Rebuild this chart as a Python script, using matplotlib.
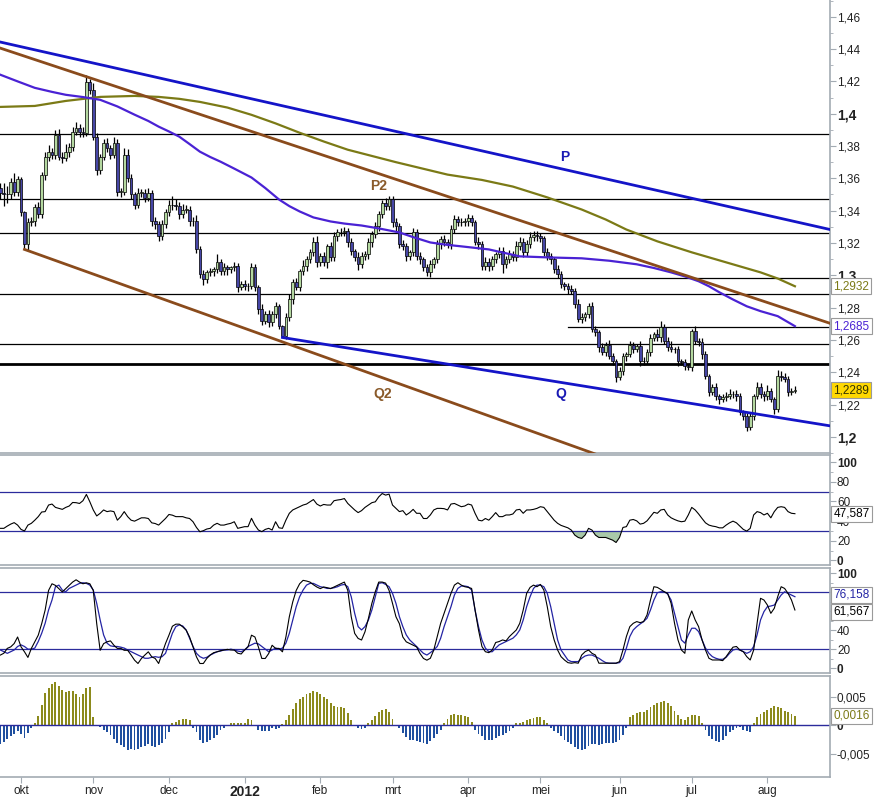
import numpy as np
import pandas as pd
import matplotlib
matplotlib.use("Agg")
import matplotlib.pyplot as plt

plt.rcParams['font.family'] = ['Liberation Sans', 'DejaVu Sans']

# ---------------------------------------------------------------- data
start_day = "2011-09-23"   # first trading day on the chart (daily bars, weekdays)
first_open = 1.3540

closes = [
    1.3512, 1.3500, 1.3500, 1.3580, 1.3518, 1.3593, 1.3389, 1.3191, 1.3327, 1.3333,
    1.3420, 1.3377, 1.3623, 1.3735, 1.3765, 1.3747, 1.3870, 1.3735, 1.3728, 1.3765,
    1.3796, 1.3889, 1.3914, 1.3889, 1.3883, 1.4198, 1.4148, 1.3858, 1.3654, 1.3735,
    1.3821, 1.3790, 1.3747, 1.3821, 1.3518, 1.3518, 1.3747, 1.3605, 1.3500, 1.3438,
    1.3512, 1.3512, 1.3481, 1.3512, 1.3333, 1.3315, 1.3241, 1.3315, 1.3389, 1.3438,
    1.3432, 1.3426, 1.3377, 1.3407, 1.3407, 1.3333, 1.3333, 1.3160, 1.3006, 1.2975,
    1.3018, 1.3024, 1.3037, 1.3080, 1.3024, 1.3049, 1.3037, 1.3049, 1.3055, 1.2926,
    1.2944, 1.2932, 1.2932, 1.3049, 1.2926, 1.2790, 1.2716, 1.2759, 1.2710, 1.2759,
    1.2808, 1.2685, 1.2623, 1.2740, 1.2851, 1.2956, 1.2926, 1.3024, 1.3055, 1.3098,
    1.3142, 1.3209, 1.3080, 1.3117, 1.3080, 1.3179, 1.3111, 1.3241, 1.3265, 1.3265,
    1.3271, 1.3203, 1.3148, 1.3111, 1.3067, 1.3117, 1.3129, 1.3203, 1.3253, 1.3302,
    1.3377, 1.3450, 1.3426, 1.3469, 1.3327, 1.3302, 1.3191, 1.3179, 1.3117, 1.3142,
    1.3265, 1.3117, 1.3098, 1.3049, 1.3018, 1.3067, 1.3098, 1.3191, 1.3222, 1.3209,
    1.3191, 1.3284, 1.3346, 1.3327, 1.3327, 1.3333, 1.3352, 1.3327, 1.3209, 1.3191,
    1.3055, 1.3080, 1.3055, 1.3098, 1.3129, 1.3148, 1.3067, 1.3098, 1.3129, 1.3111,
    1.3179, 1.3209, 1.3142, 1.3191, 1.3234, 1.3247, 1.3241, 1.3228, 1.3142, 1.3117,
    1.3098, 1.3037, 1.3006, 1.2944, 1.2932, 1.2913, 1.2901, 1.2821, 1.2728, 1.2740,
    1.2759, 1.2808, 1.2666, 1.2648, 1.2555, 1.2524, 1.2568, 1.2500, 1.2469, 1.2370,
    1.2407, 1.2500, 1.2512, 1.2568, 1.2543, 1.2562, 1.2469, 1.2469, 1.2524, 1.2611,
    1.2636, 1.2617, 1.2679, 1.2592, 1.2555, 1.2543, 1.2543, 1.2469, 1.2463, 1.2438,
    1.2432, 1.2654, 1.2592, 1.2586, 1.2512, 1.2376, 1.2278, 1.2308, 1.2253, 1.2234,
    1.2247, 1.2253, 1.2265, 1.2265, 1.2253, 1.2154, 1.2130, 1.2062, 1.2130, 1.2253,
    1.2308, 1.2265, 1.2253, 1.2284, 1.2234, 1.2173, 1.2376, 1.2370, 1.2358, 1.2278,
    1.2284, 1.2289,
]

# wick lengths above / below the body, in pips
upper_wick = [
    30, 60, 50, 25, 50, 20, 15, 10, 25, 30, 20, 35, 15, 30, 40, 25, 30, 35, 25, 45,
    20, 30, 35, 25, 30, 43, 15, 40, 20, 15, 25, 30, 15, 35, 20, 20, 40, 35, 20, 15,
    30, 25, 20, 30, 15, 25, 20, 30, 20, 25, 50, 40, 25, 35, 30, 20, 25, 40, 20, 25,
    15, 20, 15, 50, 20, 30, 15, 10, 30, 20, 20, 25, 20, 25, 20, 15, 30, 20, 25, 20,
    25, 15, 10, 25, 30, 20, 25, 15, 40, 20, 20, 30, 35, 20, 25, 15, 30, 25, 20, 25,
    30, 20, 25, 15, 30, 25, 20, 25, 20, 25, 20, 15, 30, 20, 20, 25, 20, 25, 20, 15,
    25, 20, 25, 15, 20, 25, 15, 30, 20, 25, 15, 30, 25, 20, 25, 20, 30, 20, 15, 25,
    20, 30, 25, 20, 15, 25, 25, 20, 30, 20, 35, 25, 20, 30, 35, 30, 25, 20, 15, 25,
    20, 15, 25, 20, 15, 20, 25, 20, 30, 25, 15, 20, 25, 20, 15, 25, 20, 30, 20, 15,
    25, 20, 15, 25, 20, 15, 30, 25, 20, 25, 15, 30, 35, 20, 25, 40, 15, 20, 15, 20,
    15, 15, 30, 20, 25, 20, 15, 20, 25, 15, 20, 25, 30, 20, 25, 20, 15, 20, 25, 15,
    30, 25, 20, 35, 20, 15, 40, 30, 25, 20, 20, 25,
]
lower_wick = [
    40, 70, 50, 30, 30, 25, 20, 30, 40, 20, 30, 25, 20, 35, 25, 30, 25, 20, 35, 20,
    30, 25, 20, 35, 30, 20, 25, 20, 35, 25, 20, 30, 25, 20, 25, 35, 20, 25, 30, 25,
    20, 25, 30, 20, 25, 30, 31, 20, 25, 20, 25, 20, 30, 25, 20, 25, 30, 20, 25, 35,
    25, 20, 30, 25, 20, 25, 35, 20, 25, 30, 20, 25, 30, 20, 25, 30, 25, 20, 30, 25,
    25, 20, 6, 20, 25, 30, 20, 25, 20, 30, 20, 25, 30, 25, 20, 35, 20, 25, 30, 25,
    20, 30, 25, 20, 35, 25, 20, 30, 25, 20, 25, 20, 25, 20, 30, 25, 20, 25, 30, 25,
    20, 25, 30, 20, 25, 30, 20, 25, 30, 25, 20, 30, 25, 20, 25, 20, 30, 25, 20, 30,
    25, 20, 30, 25, 20, 25, 50, 25, 20, 25, 20, 25, 30, 20, 25, 20, 30, 25, 20, 25,
    30, 20, 25, 20, 25, 30, 20, 25, 20, 25, 20, 25, 20, 25, 30, 20, 25, 20, 25, 30,
    20, 25, 30, 20, 25, 20, 30, 25, 20, 25, 20, 25, 30, 20, 25, 20, 25, 30, 20, 25,
    20, 25, 20, 25, 30, 20, 25, 20, 25, 30, 20, 25, 20, 25, 30, 20, 25, 25, 20, 25,
    20, 25, 30, 25, 20, 30, 20, 25, 20, 25, 20, 15,
]

# moving averages (bar index, price)
ma_fast_idx = [0, 5, 10, 15, 19, 24, 29, 34, 39, 43, 46, 49, 52, 55, 58, 61, 64, 68,
               73, 77, 81, 84, 87, 91, 96, 100, 105, 110, 116, 120, 125, 130, 134,
               142, 151, 160, 169, 177, 185, 190, 195, 199, 203, 206, 209, 213, 217,
               221, 226, 231]
ma_fast = [1.4241, 1.4200, 1.4160, 1.4135, 1.4117, 1.4103, 1.4086, 1.4045, 1.3994,
           1.3955, 1.3920, 1.3890, 1.3858, 1.3812, 1.3765, 1.3732, 1.3703, 1.3660,
           1.3605, 1.3540, 1.3469, 1.3428, 1.3395, 1.3358, 1.3333, 1.3320, 1.3308,
           1.3290, 1.3265, 1.3236, 1.3203, 1.3188, 1.3179, 1.3160, 1.3117, 1.3110,
           1.3105, 1.3090, 1.3068, 1.3045, 1.3018, 1.2993, 1.2963, 1.2932, 1.2895,
           1.2850, 1.2808, 1.2778, 1.2747, 1.2685]
ma_slow_idx = [0, 10, 19, 29, 39, 46, 52, 58, 66, 73, 80, 87, 94, 101, 115, 130, 140,
               149, 159, 169, 176, 182, 191, 201, 211, 221, 226, 231]
ma_slow = [1.4042, 1.4048, 1.4079, 1.4104, 1.4110, 1.4104, 1.4092, 1.4073, 1.4038,
           1.3993, 1.3940, 1.3882, 1.3828, 1.3777, 1.3700, 1.3623, 1.3590, 1.3549,
           1.3482, 1.3407, 1.3345, 1.3283, 1.3210, 1.3142, 1.3080, 1.3018, 1.2980,
           1.2932]

# trend lines (bar index, price)
p_idx, p_val = [-7, 245], [1.4477, 1.3265]
p2_idx, p2_val = [-7, 245], [1.4455, 1.2676]
q_idx, q_val = [82, 245], [1.2615, 1.2055]
q2_idx, q2_val = [7, 180], [1.3160, 1.1840]

# horizontal support / resistance
levels = [1.3876, 1.3469, 1.3259, 1.2883, 1.2574]
strong_level = 1.2451
short_levels = [1.2981, 1.2679]
short_level_from = [93, 165]

rsi = [
    32.7, 32.7, 35, 37, 38.5, 36, 31.6, 30, 36, 37.8,
    41, 44.6, 49.3, 49.7, 56.4, 57.4, 54, 53, 52, 54,
    55.4, 59, 58.8, 58, 60.8, 67.2, 59.7, 51.4, 45.3, 48,
    51.4, 49.7, 50.4, 49.7, 41, 44.6, 49.7, 44.6, 41, 40,
    41.7, 43.4, 43.4, 42.7, 38.3, 37.6, 36, 39.4, 42.7, 46.8,
    46.1, 44.6, 44.6, 44.6, 43.4, 42.7, 39.4, 33.6, 29.2, 30.3,
    32, 32.7, 36, 37.8, 36, 36, 37, 37.8, 39.4, 32.7,
    33.6, 34.4, 34.4, 42.9, 36, 31, 29.3, 31.6, 32.7, 31,
    39.4, 33.2, 32.7, 41, 48, 51.4, 53, 54.7, 56.4, 57.4,
    59.7, 62, 57.4, 55.4, 57, 56.4, 56.4, 60.8, 61.5, 62,
    63, 58, 54.7, 51.4, 48.7, 50.7, 54, 56.4, 58.8, 59.7,
    64.7, 68.1, 66.5, 67.5, 56.4, 53, 49.7, 50.7, 46.3, 48.7,
    52, 48, 48, 42.7, 42.7, 46.3, 51.4, 53, 53, 52.7,
    51.4, 57.4, 58, 56.4, 54.7, 55.4, 57.4, 56.4, 48, 41,
    40.3, 42.7, 41, 44.6, 48.7, 44.6, 44.6, 46.3, 46.3, 47.3,
    51.4, 52, 48, 51.4, 51.4, 52, 53, 54.7, 54, 49.7,
    45.3, 41, 37.8, 35.7, 34.4, 33.2, 30.9, 25.8, 23.4, 22.4,
    25.8, 32.7, 30.9, 25.8, 23.4, 23.4, 23.4, 22, 20.7, 18.3,
    23.4, 33.6, 34.4, 41, 41.7, 40.3, 37, 37.8, 40.3, 44.6,
    49, 48, 51.4, 52, 46.3, 43.4, 41.7, 40.3, 39.4, 40,
    46.3, 54, 51.4, 47.3, 42.7, 38.3, 36, 35, 34.4, 33.2,
    33.2, 36, 38.3, 40, 38.3, 35, 31.6, 29.9, 32.7, 46.3,
    49.7, 48.7, 46.3, 48, 43.4, 49.7, 54, 54.7, 54, 49.7,
    48, 47.6,
]

stoch_k = [
    14, 15.9, 21, 22.6, 26.1, 33, 22.6, 17.4, 11.5, 21, 27.9, 34.9, 47, 61.2, 82, 89,
    87.3, 83.9, 80.4, 83.9, 87.3, 90.8, 93.2, 90.8, 89, 90, 89, 82, 47, 19, 26, 27.9,
    28.9, 24.3, 21, 21, 19, 19, 14, 8.6, 5.1, 10.4, 14, 17.4, 12.1, 10.4, 5.1,
    15.6, 26.1, 34.9, 44.3, 46.5, 46.5, 43.7, 40.2, 33, 22.6, 12.1, 5.1, 5.1, 10.4, 14,
    16.5, 17.4, 18.6, 19.3, 20, 19.3, 19.3, 15.9, 15.1, 19.3, 22.6, 34.9, 33, 22.6,
    10.4, 10.4, 15.6,
    24.3, 21, 21, 17.4, 33, 54.3, 70, 82, 89, 92.6, 91.9, 90.8, 88, 85.6, 83.9, 85.6,
    84.9, 83.9, 85.6, 87.3, 89, 90.8, 82, 54.3, 36.8, 31.5, 29.8, 38.5, 52.6, 68.4, 80.7,
    90.8, 90.8, 89.7, 82, 68.4, 54.3, 47, 33, 27.9, 26.1, 24.3, 22.6, 15.6, 10.4, 8.6,
    10.6, 19.3, 33.5, 47.4, 57.9, 68.4, 78.9, 87.6, 90.1, 87.6, 85.9, 85.2, 84.1,
    61.4, 40.4, 23.0, 17.5, 16.5, 19.3, 27.2, 28.2, 29.9, 28.9, 33.5, 36.9, 40.4, 47.4,
    61.4, 78.9, 85.2, 87.6, 85.9, 88.3, 82.4, 64.9, 43.9, 29.9, 19.3, 12.3, 8.8, 6.0,
    5.4, 6.0, 5.4,
    14.0, 17.5, 19.3, 15.8, 14.0, 5.4, 5.4, 5.4, 5.4, 5.4, 5.4, 7.1, 19.3, 33.5, 43.9,
    47.4, 49.2, 48.1, 49.2, 56.2, 71.9, 85.9, 85.2, 83.0, 80.6, 78.9, 68.4, 47.4, 29.9,
    19.3, 15.8,
    50.9, 60.4, 50.9, 43.9, 29.9, 19.3, 10.6, 8.8, 8.8, 8.8, 8.1, 12.3, 17.5, 22.3,
    23.0, 19.3, 17.5, 12.3, 8.8, 19.3, 47.4, 73.7, 71.9, 66.6, 57.9, 63.2, 75.4, 85.9,
    84.1, 78.9, 71.9, 61.4,
]

stoch_d = [
    19.3, 17.5, 15.8, 17.5, 19.3, 23.0, 24.7, 23.0, 20.2, 20.2, 21.3, 28.2, 36.9, 47.4,
    61.4, 71.9,
    85.9, 87.6, 82.4, 80.6, 84.1, 85.9, 87.6, 89.4, 90.1, 89.4, 87.6, 82.4, 68.4, 50.9,
    35.2, 26.5, 23.7, 23.0, 23.0, 22.3, 21.3, 19.3, 17.5, 15.8, 14.0, 12.3, 10.6, 10.6,
    11.6, 12.3, 11.6,
    12.3, 15.8, 26.5, 36.9, 43.9, 45.7, 44.6, 40.4, 31.7, 23.0, 15.8, 12.3, 10.6, 11.6,
    14.0, 15.8, 17.5, 18.2, 19.3, 19.3, 20.2, 19.3, 18.2, 17.5, 19.3, 23.0, 24.7, 26.5,
    25.8, 23.0, 20.2, 17.5,
    19.3, 21.3, 20.2, 21.3, 26.5, 36.9, 50.9, 64.9, 75.4, 82.4, 87.6, 89.4, 89.4, 87.6,
    85.9, 85.2, 84.1, 84.1, 84.8, 85.9, 87.6, 88.3, 85.9, 75.4, 57.9, 43.9, 40.4, 43.9,
    50.9, 61.4, 75.4,
    89.4, 90.1, 88.3, 85.9, 78.9, 68.4, 54.4, 43.9, 35.2, 29.9, 26.5, 23.0, 19.3, 15.8,
    14.0,
    16.5, 19.3, 23.0, 31.7, 43.9, 54.4, 64.9, 77.2, 84.1, 86.6, 86.6, 85.9, 82.4,
    61.4, 43.9, 29.9, 21.3, 17.5, 17.5, 21.3, 24.7, 26.5, 28.2, 29.9, 31.7, 35.2, 40.4,
    50.9, 64.9, 75.4, 84.1, 87.6, 87.6, 85.9, 78.9, 64.9, 47.4, 29.9, 19.3, 14.0, 8.8,
    7.1, 7.1, 7.1,
    10.6, 13.0, 14.0, 14.0, 12.3, 10.6, 8.1, 6.0, 5.4, 5.4, 5.4, 6.0, 10.6, 21.3, 33.5,
    40.4, 43.9, 46.7, 49.2, 52.7, 61.4, 71.9, 79.6, 80.6, 80.6, 78.2, 71.9, 57.9, 43.9,
    29.9, 26.5,
    35.2, 42.2, 42.2, 38.7, 29.9, 21.3, 15.8, 12.3, 10.6, 9.5, 9.5, 11.6, 15.8, 19.3,
    20.2, 19.3, 17.5, 15.8, 17.5, 23.0, 35.2, 50.9, 59.7, 64.9, 65.6, 66.6, 71.9, 77.2,
    80.6, 78.9, 77.2, 75.4,
]

macd_hist = [
    -0.0034, -0.0030, -0.0025, -0.0020, -0.0016, -0.0011, -0.0015, -0.0022, -0.0014, -0.0006,
    0.0003, 0.0015, 0.0035, 0.0057, 0.0065, 0.0072, 0.0075, 0.0068, 0.0062, 0.0058,
    0.0060, 0.0060, 0.0055, 0.0050, 0.0055, 0.0065, 0.0066, 0.0014, -0.0002, -0.0003,
    -0.0008, -0.0012, -0.0018, -0.0025, -0.0032, -0.0035, -0.0038, -0.0043, -0.0042, -0.0044,
    -0.0042, -0.0038, -0.0036, -0.0034, -0.0037, -0.0038, -0.0035, -0.0032, -0.0024, -0.0013,
    0.0003, 0.0005, 0.0008, 0.0010, 0.0010, 0.0009, -0.0005, -0.0013, -0.0026, -0.0032,
    -0.0030, -0.0027, -0.0022, -0.0017, -0.0009, -0.0006, -0.0002, 0.0004, 0.0003, 0.0003,
    0.0003, 0.0004, 0.0011, 0.0009, -0.0002, -0.0008, -0.0011, -0.0010, -0.0010, -0.0006,
    -0.0007, -0.0005, 0.0001, 0.0008, 0.0018, 0.0028, 0.0038, 0.0045, 0.0050, 0.0054,
    0.0057, 0.0060, 0.0058, 0.0055, 0.0050, 0.0045, 0.0038, 0.0034, 0.0031, 0.0031,
    0.0030, 0.0021, 0.0009, -0.0002, -0.0006, -0.0007, -0.0005, 0.0003, 0.0009, 0.0016,
    0.0023, 0.0026, 0.0028, 0.0022, 0.0011, -0.0002, -0.0006, -0.0014, -0.0021, -0.0026,
    -0.0026, -0.0028, -0.0030, -0.0032, -0.0034, -0.0028, -0.0022, -0.0016, -0.0008, 0.0004,
    0.0011, 0.0017, 0.0019, 0.0017, 0.0017, 0.0016, 0.0014, 0.0006, -0.0008, -0.0015,
    -0.0020, -0.0026, -0.0027, -0.0026, -0.0022, -0.0019, -0.0017, -0.0014, -0.0010, -0.0006,
    0.0003, 0.0003, 0.0006, 0.0009, 0.0011, 0.0013, 0.0014, 0.0014, 0.0009, 0.0003,
    -0.0005, -0.0010, -0.0014, -0.0020, -0.0026, -0.0030, -0.0034, -0.0038, -0.0042, -0.0043,
    -0.0042, -0.0037, -0.0033, -0.0034, -0.0035, -0.0033, -0.0032, -0.0031, -0.0031, -0.0029,
    -0.0026, -0.0017, -0.0006, 0.0014, 0.0018, 0.0021, 0.0022, 0.0023, 0.0026, 0.0031,
    0.0035, 0.0039, 0.0040, 0.0042, 0.0038, 0.0033, 0.0025, 0.0018, 0.0011, 0.0009,
    0.0014, 0.0017, 0.0018, 0.0016, 0.0003, -0.0008, -0.0019, -0.0025, -0.0028, -0.0029,
    -0.0027, -0.0020, -0.0012, -0.0008, -0.0005, -0.0004, -0.0008, -0.0011, -0.0012, 0.0003,
    0.0014, 0.0019, 0.0022, 0.0026, 0.0030, 0.0034, 0.0032, 0.0029, 0.0025, 0.0022,
    0.0019, 0.0016,
]

month_starts = ["2011-10-01", "2011-11-01", "2011-12-01", "2012-01-01", "2012-02-01",
                "2012-03-01", "2012-04-01", "2012-05-01", "2012-06-01", "2012-07-01",
                "2012-08-01"]
month_labels = ["okt", "nov", "dec", "2012", "feb", "mrt", "apr", "mei", "jun", "jul", "aug"]

price_ticks = [1.20, 1.22, 1.24, 1.26, 1.28, 1.30, 1.32, 1.34, 1.36, 1.38, 1.40, 1.42, 1.44, 1.46]
price_labels = ["1,2", "1,22", "1,24", "1,26", "1,28", "1,3", "1,32", "1,34", "1,36",
                "1,38", "1,4", "1,42", "1,44", "1,46"]

# ---------------------------------------------------------------- styling
GRID_GREY = "#a3abb3"
UP_COL = "#b4d8a0"
DOWN_COL = "#4646a6"
LEVEL_BLUE = "#2b2b9c"


def style_panel(ax, show_top=True):
    ax.spines["left"].set_visible(False)
    ax.spines["top"].set_visible(show_top)
    for s in ("top", "bottom", "right"):
        ax.spines[s].set_color(GRID_GREY)
        ax.spines[s].set_linewidth(1.2)
    ax.yaxis.tick_right()
    ax.tick_params(axis="y", which="both", direction="out", color=GRID_GREY,
                   labelsize=8.5, pad=1, labelcolor="#222222")
    ax.tick_params(axis="y", which="major", length=4)
    ax.tick_params(axis="y", which="minor", length=2)
    ax.tick_params(axis="x", which="both", bottom=False, labelbottom=False)
    ax.set_xlim(-0.12, 241.2)


def value_box(ax, y, text, fc="white", tc="black"):
    ax.text(1.004, y, text, transform=ax.get_yaxis_transform(), ha="left", va="center",
            fontsize=8.5, color=tc, zorder=10, clip_on=False,
            bbox=dict(boxstyle="square,pad=0.18", fc=fc, ec="#9a9a9a", lw=0.8))


def main():
    n = len(closes)
    x = np.arange(n)
    dates = pd.bdate_range(start_day, periods=n)
    c = np.array(closes)
    o = np.array([first_open] + closes[:-1])
    hi = np.maximum(o, c) + np.array(upper_wick) / 1e4
    lo = np.minimum(o, c) - np.array(lower_wick) / 1e4

    fig = plt.figure(figsize=(8.75, 7.99), dpi=100)
    W = 830 / 875
    ax = fig.add_axes([0, 1 - 453 / 799, W, 453 / 799])
    ax_rsi = fig.add_axes([0, 1 - 565 / 799, W, 110 / 799])
    ax_st = fig.add_axes([0, 1 - 673 / 799, W, 105 / 799])
    ax_md = fig.add_axes([0, 1 - 777 / 799, W, 101 / 799])

    # ------------------------------------------------ price panel
    style_panel(ax, show_top=False)
    ax.set_ylim(1.19074, 1.47037)
    for lv in levels:
        ax.axhline(lv, color="black", lw=0.9, zorder=1)
    ax.axhline(strong_level, color="black", lw=2.0, zorder=1)
    for lv, start in zip(short_levels, short_level_from):
        ax.plot([start, 241.2], [lv, lv], color="black", lw=0.9, zorder=1)

    ax.vlines(x, lo, hi, color="black", lw=0.9, zorder=3)
    body_low = np.minimum(o, c)
    body_h = np.maximum(np.abs(c - o), 0.00012)
    colours = np.where(c >= o, UP_COL, DOWN_COL)
    ax.bar(x, body_h, bottom=body_low, width=0.8, color=colours,
           edgecolor="black", linewidth=0.5, zorder=4)

    ax.plot(ma_slow_idx, ma_slow, color="#7b7a16", lw=1.6, zorder=5)
    ax.plot(ma_fast_idx, ma_fast, color="#4a22d4", lw=1.6, zorder=5)

    ax.plot(p_idx, p_val, color="#1414c8", lw=2.0, zorder=6)
    ax.plot(q_idx, q_val, color="#1414c8", lw=2.0, zorder=6)
    ax.plot(p2_idx, p2_val, color="#8a4b1c", lw=2.0, zorder=6)
    ax.plot(q2_idx, q2_val, color="#8a4b1c", lw=2.0, zorder=6)

    ax.text(164, 1.3734, "P", color="#1a1ab4", fontsize=10, fontweight="bold",
            ha="center", va="center")
    ax.text(110, 1.3555, "P2", color="#8a5a2a", fontsize=10, fontweight="bold",
            ha="center", va="center")
    ax.text(111, 1.2265, "Q2", color="#8a5a2a", fontsize=10, fontweight="bold",
            ha="center", va="center")
    ax.text(163, 1.2265, "Q", color="#1a1ab4", fontsize=10, fontweight="bold",
            ha="center", va="center")

    ax.set_yticks(price_ticks)
    labs = ax.set_yticklabels(price_labels)
    for t in labs:
        if t.get_text() in ("1,2", "1,3", "1,4"):
            t.set_fontweight("bold")
            t.set_fontsize(10)
    ax.set_yticks(np.arange(1.19, 1.471, 0.01), minor=True)

    value_box(ax, ma_slow[-1], "1,2932", tc="#7b7a16")
    value_box(ax, ma_fast[-1], "1,2685", tc="#4a22d4")
    value_box(ax, closes[-1], "1,2289", fc="#ffd800", tc="#333300")

    # ------------------------------------------------ RSI
    style_panel(ax_rsi)
    ax_rsi.set_ylim(-4.6, 107.3)
    r = np.array(rsi)
    ax_rsi.axhline(70, color=LEVEL_BLUE, lw=0.9)
    ax_rsi.axhline(30, color=LEVEL_BLUE, lw=0.9)
    ax_rsi.fill_between(x, r, 30, where=r < 30, interpolate=True,
                        color="#a9c9a9", lw=0)
    ax_rsi.plot(x, r, color="black", lw=0.8)
    ax_rsi.set_yticks([0, 20, 40, 60, 80, 100])
    labs = ax_rsi.set_yticklabels(["0", "20", "40", "60", "80", "100"])
    labs[0].set_fontweight("bold")
    labs[-1].set_fontweight("bold")
    ax_rsi.set_yticks(np.arange(10, 100, 20), minor=True)
    value_box(ax_rsi, rsi[-1], "47,587")

    # ------------------------------------------------ Stochastic
    style_panel(ax_st)
    ax_st.set_ylim(-4.9, 105.6)
    ax_st.axhline(80, color=LEVEL_BLUE, lw=0.9)
    ax_st.axhline(20, color=LEVEL_BLUE, lw=0.9)
    ax_st.plot(x, stoch_d, color="#2424a4", lw=0.9)
    ax_st.plot(x, stoch_k, color="black", lw=0.8)
    ax_st.set_yticks([0, 20, 40, 60, 80, 100])
    labs = ax_st.set_yticklabels(["0", "20", "40", "60", "80", "100"])
    labs[0].set_fontweight("bold")
    labs[-1].set_fontweight("bold")
    ax_st.set_yticks(np.arange(10, 100, 20), minor=True)
    value_box(ax_st, stoch_d[-1] + 2, "76,158", tc="#2424a4")
    value_box(ax_st, stoch_k[-1] - 2, "61,567")

    # ------------------------------------------------ MACD histogram
    style_panel(ax_md)
    ax_md.set_ylim(-0.00912, 0.0086)
    h = np.array(macd_hist)
    ax_md.bar(x, h, width=0.55, color=np.where(h >= 0, "#8c8a1c", "#1f4f9f"), lw=0)
    ax_md.axhline(0, color=LEVEL_BLUE, lw=1.0)
    ax_md.set_yticks([-0.005, 0, 0.005])
    labs = ax_md.set_yticklabels(["-0,005", "0", "0,005"])
    labs[1].set_fontweight("bold")
    value_box(ax_md, macd_hist[-1], "0,0016", tc="#7b7a16")

    month_idx = [int(np.searchsorted(dates, pd.Timestamp(m))) for m in month_starts]
    ax_md.tick_params(axis="x", which="major", bottom=True, labelbottom=True,
                      direction="out", length=4, color=GRID_GREY, labelsize=8.5,
                      labelcolor="#222222", pad=2)
    ax_md.set_xticks(month_idx)
    labs = ax_md.set_xticklabels(month_labels)
    for t in labs:
        if t.get_text() == "2012":
            t.set_fontweight("bold")
            t.set_fontsize(10)

    fig.savefig("out.png", dpi=100)


if __name__ == "__main__":
    main()
